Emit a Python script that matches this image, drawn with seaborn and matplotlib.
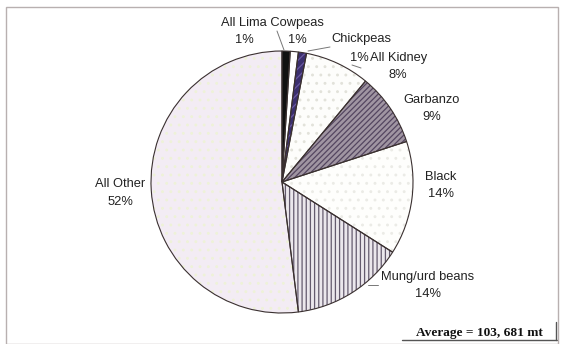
import matplotlib
matplotlib.use("Agg")
import matplotlib.pyplot as plt
import seaborn as sns
from matplotlib.patches import Rectangle

# ---- data ----
categories = ["All Lima", "Cowpeas", "Chickpeas", "All Kidney", "Garbanzo",
              "Black", "Mung/urd beans", "All Other"]
shares = [1, 1, 1, 8, 9, 14, 14, 52]
pct_labels = ["1%", "1%", "1%", "8%", "9%", "14%", "14%", "52%"]
note_text = "Average = 103, 681 mt"

# ---- style ----
sns.set_theme(style="white")
plt.rcParams['font.family'] = ['Liberation Sans', 'DejaVu Sans']
plt.rcParams['hatch.linewidth'] = 0.9

W, H = 564, 344
fig = plt.figure(figsize=(W / 100, H / 100), dpi=100)
fig.patch.set_facecolor("white")

CX, CY, R = 282, 182, 131
ax = fig.add_axes([0, 0, 1, 1])


def P(px, py):
    """pixel (from top-left) -> data coords"""
    return (px - CX) / R, (CY - py) / R


faces = ["#111111", "#ffffff", "#3b2f6e", "#fdfdfb", "#a095a2",
         "#fefefc", "#ebe7ec", "#f3ecf4"]
hatches = [None, None, "////", "..", "//////", "..", "||||", ".."]
hcolors = ["#111111", "#ffffff", "#6a58a0", "#e2e2da", "#544660",
           "#ebebe6", "#645a6e", "#eef2d8"]

# fill + hatch layer (hatch colour follows edgecolor)
wedges, _ = ax.pie(shares, startangle=90, counterclock=False, radius=1,
                   colors=faces, frame=True,
                   wedgeprops=dict(linewidth=0))
for w, h, hc in zip(wedges, hatches, hcolors):
    w.set_edgecolor(hc)
    w.set_linewidth(0)
    if h:
        w.set_hatch(h)
# outline layer
ax.pie(shares, startangle=90, counterclock=False, radius=1, frame=True,
       wedgeprops=dict(linewidth=0.8, edgecolor="#3a3030", fill=False))

ax.set_xlim(-CX / R, (W - CX) / R)
ax.set_ylim((CY - H) / R, CY / R)
ax.set_aspect("auto")
ax.set_axis_off()

# ---- labels ----
fs = 9.3
tc = "#222222"
txt = dict(fontsize=fs, color=tc, ha="center", va="center")
ax.text(*P(272, 23), "All Lima Cowpeas", **txt)
ax.text(*P(244, 40), pct_labels[0], **txt)
ax.text(*P(297, 40), pct_labels[1], **txt)
ax.text(*P(361, 39), "Chickpeas", **txt)
ax.text(*P(369, 58), pct_labels[2], ha="right", va="center", fontsize=fs, color=tc)
ax.text(*P(370, 58), categories[3], ha="left", va="center", fontsize=fs, color=tc)
ax.text(*P(398, 75), pct_labels[3], **txt)
ax.text(*P(432, 100), categories[4], **txt)
ax.text(*P(432, 117), pct_labels[4], **txt)
ax.text(*P(441, 177), categories[5], **txt)
ax.text(*P(441, 194), pct_labels[5], **txt)
ax.text(*P(428, 277), categories[6], **txt)
ax.text(*P(428, 294), pct_labels[6], **txt)
ax.text(*P(120, 184), categories[7], **txt)
ax.text(*P(120, 202), pct_labels[7], **txt)

# leader lines
lc = dict(color="#777777", linewidth=0.7)
for (x0, y0), (x1, y1) in [((277, 31), (284, 50)),
                           ((308, 51), (330, 47)),
                           ((352, 65), (361, 68)),
                           ((368, 285), (378, 285))]:
    a, b = P(x0, y0)
    c, d = P(x1, y1)
    ax.plot([a, c], [b, d], **lc)

# average note
ax.text(*P(479, 333), note_text, fontsize=9.6, fontweight="bold",
        family=["Liberation Serif", "DejaVu Serif"], color="#111111",
        ha="center", va="center")
a, b = P(402, 340)
c, d = P(557, 340)
ax.plot([a, c], [b, d], color="#555555", linewidth=1)
a, b = P(556, 322)
c, d = P(556, 340)
ax.plot([a, c], [b, d], color="#555555", linewidth=1)

# outer frame
fig.add_artist(Rectangle((6 / W, 0.0), 552 / W, 1 - 7 / H,
                         transform=fig.transFigure, fill=False,
                         edgecolor="#b8b0b0", linewidth=1))

fig.savefig("out.png", dpi=100, facecolor="white")
